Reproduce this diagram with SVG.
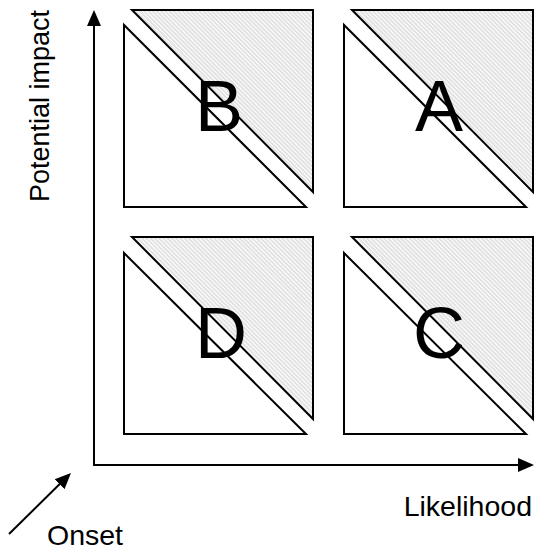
<svg xmlns="http://www.w3.org/2000/svg" width="535" height="547" viewBox="0 0 535 547">
  <style>
    .tri { stroke: #000; stroke-width: 2; stroke-linejoin: miter; }
    .hi { fill: url(#hatch); }
    .lo { fill: #fff; }
    .axis { stroke: #000; stroke-width: 2; fill: none; }
    .big { font-family: "Liberation Sans", Arial, sans-serif; font-size: 72px; fill: #000; text-anchor: middle; }
    .lbl { font-family: "Liberation Sans", Arial, sans-serif; font-size: 28.5px; fill: #000; }
  </style>
  <defs>
    <pattern id="hatch" patternUnits="userSpaceOnUse" width="3" height="3" patternTransform="rotate(-45)">
      <rect width="3" height="3" fill="#fff"/>
      <line x1="1" y1="0" x2="1" y2="3" stroke="#c6c6c6" stroke-width="1"/>
    </pattern>
    <marker id="head" viewBox="0 0 16 16" markerWidth="16" markerHeight="16" refX="2" refY="8" orient="auto" markerUnits="userSpaceOnUse">
      <path d="M0,1 L16,8 L0,15 z" fill="#000"/>
    </marker>
  </defs>

  <!-- axes and onset arrow -->
  <g id="connectors">
    <line class="axis" x1="94" y1="466" x2="94" y2="24" marker-end="url(#head)"/>
    <line class="axis" x1="93" y1="465" x2="520" y2="465" marker-end="url(#head)"/>
    <line class="axis" x1="9" y1="534" x2="61" y2="482.8" marker-end="url(#head)"/>
  </g>

  <!-- quadrant B (top left) -->
  <g id="quadB">
    <polygon class="tri hi" points="132,10 313,10 313,192"/>
    <polygon class="tri lo" points="124,25 124,207 306,207"/>
    <text class="big" x="219" y="131">B</text>
  </g>

  <!-- quadrant A (top right) -->
  <g id="quadA">
    <polygon class="tri hi" points="352,10 533,10 533,192"/>
    <polygon class="tri lo" points="344,25 344,207 526,207"/>
    <text class="big" x="439" y="131">A</text>
  </g>

  <!-- quadrant D (bottom left) -->
  <g id="quadD">
    <polygon class="tri hi" points="132,237 313,237 313,419"/>
    <polygon class="tri lo" points="124,253 124,434 306,434"/>
    <text class="big" x="221" y="358">D</text>
  </g>

  <!-- quadrant C (bottom right) -->
  <g id="quadC">
    <polygon class="tri hi" points="352,237 533,237 533,419"/>
    <polygon class="tri lo" points="344,253 344,434 526,434"/>
    <text class="big" x="439" y="358">C</text>
  </g>

  <!-- axis labels -->
  <g id="labels">
    <text class="lbl" style="font-size:27px" transform="translate(49,106) rotate(-90)" text-anchor="middle">Potential impact</text>
    <text class="lbl" x="532" y="516" text-anchor="end">Likelihood</text>
    <text class="lbl" x="47" y="545">Onset</text>
  </g>
</svg>
